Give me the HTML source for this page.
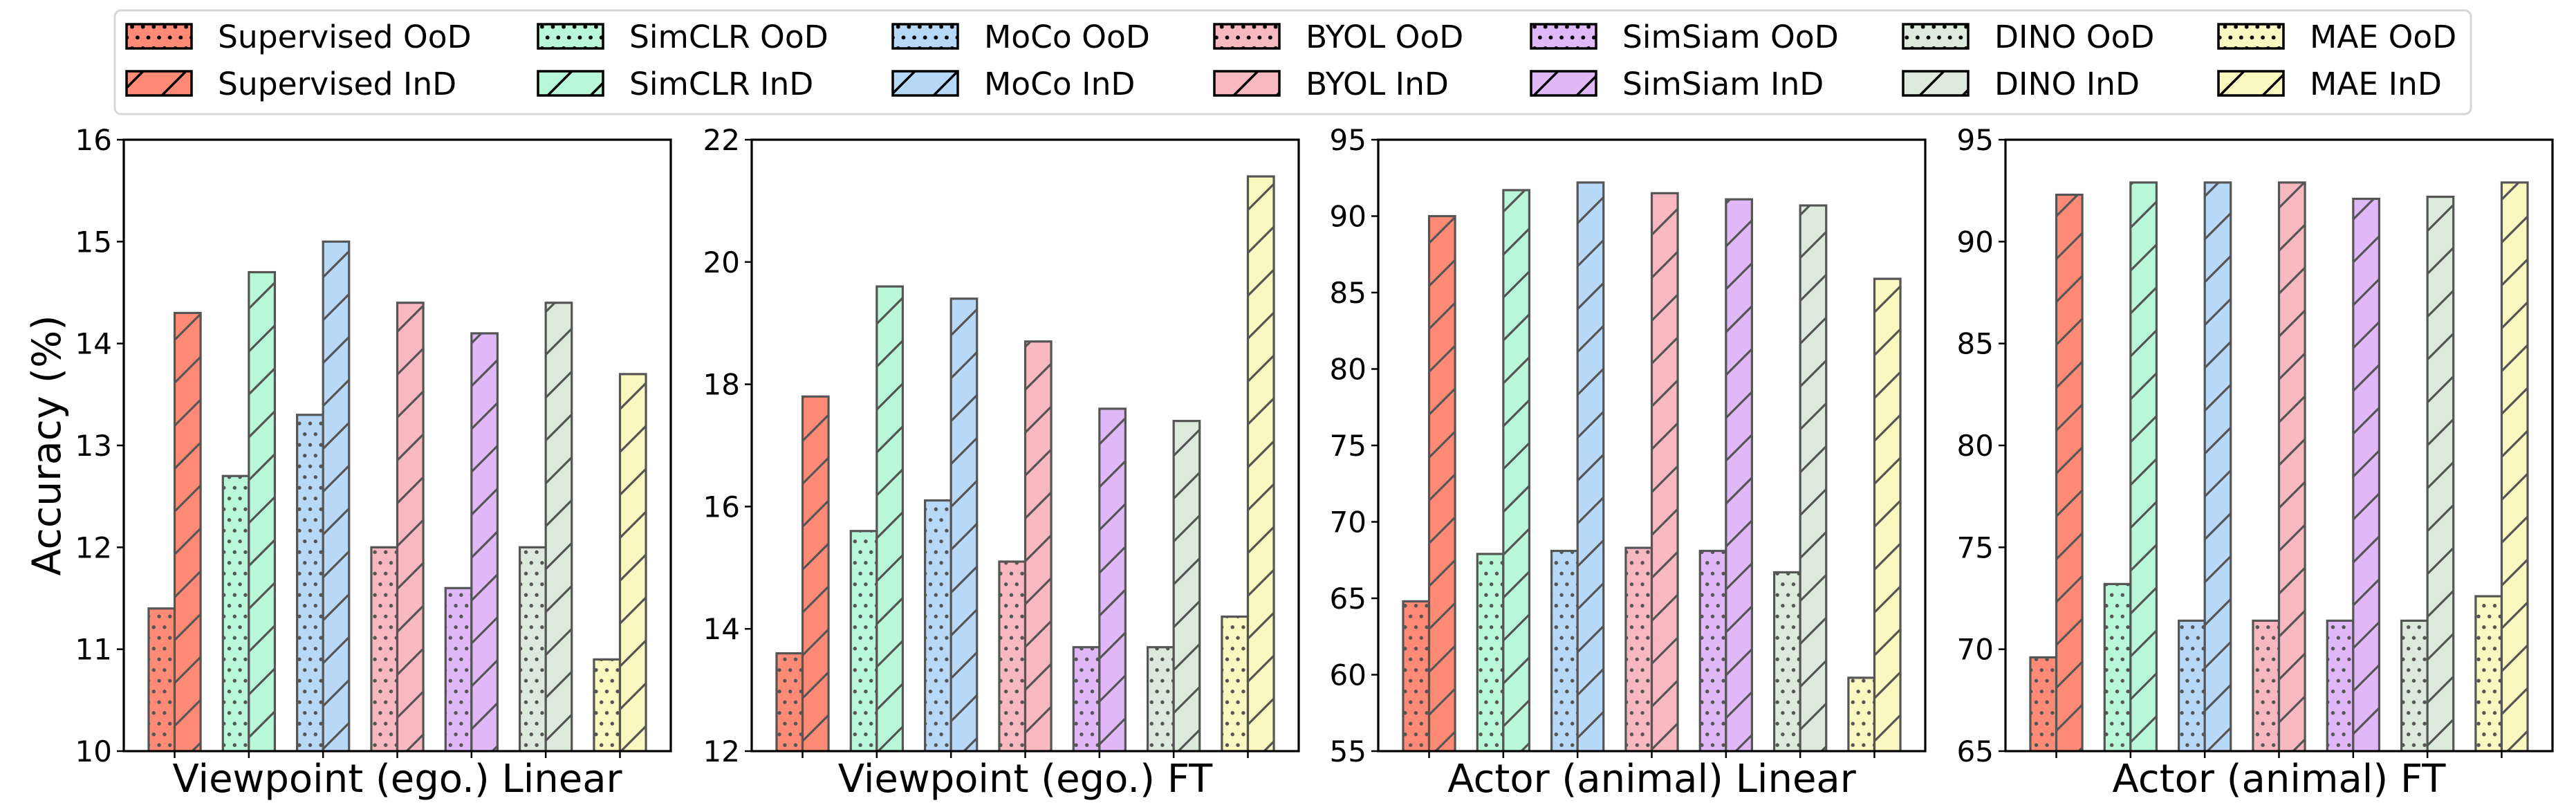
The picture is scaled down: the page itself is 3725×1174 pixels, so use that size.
<!DOCTYPE html>
<html><head><meta charset="utf-8"><style>
html,body{margin:0;padding:0;background:#fff;}
svg{display:block;font-family:"DejaVu Sans","Liberation Sans",sans-serif;}
</style></head><body>
<svg id="chart" width="3725" height="1174" viewBox="0 0 3725 1174" xmlns="http://www.w3.org/2000/svg">
<defs>
<pattern id="dots" patternUnits="userSpaceOnUse" width="15.6" height="31" x="0" y="0"><circle cx="3.9" cy="7.75" r="2.7" fill="#555"/><circle cx="11.7" cy="23.25" r="2.7" fill="#555"/></pattern>
<pattern id="slash" patternUnits="userSpaceOnUse" width="62" height="62"><path d="M-6,68 L68,-6 M-6,6 L6,-6 M56,68 L68,56" stroke="#555" stroke-width="3.2"/></pattern>
<pattern id="dotsK" patternUnits="userSpaceOnUse" width="15.6" height="31" x="0" y="0"><circle cx="3.9" cy="7.75" r="2.9" fill="#000"/><circle cx="11.7" cy="23.25" r="2.9" fill="#000"/></pattern>
<pattern id="slashK" patternUnits="userSpaceOnUse" width="62" height="62"><path d="M-6,68 L68,-6 M-6,6 L6,-6 M56,68 L68,56" stroke="#000" stroke-width="3.5"/></pattern>
</defs>
<g id="legend"></g>
<g id="panels"></g>
<text transform="translate(87,644) rotate(-90)" text-anchor="middle" font-size="57">Accuracy (%)</text>
</svg>
<script>
const methods = ["Supervised","SimCLR","MoCo","BYOL","SimSiam","DINO","MAE"];
const colors = ["#ff8a75","#b8f7d8","#b8d8f8","#f8b8c0","#e0b8f8","#dceadb","#f8f8c0"];
const titles = ["Viewpoint (ego.) Linear","Viewpoint (ego.) FT","Actor (animal) Linear","Actor (animal) FT"];
const p1OoD = [11.4,12.7,13.3,12.0,11.6,12.0,10.9];
const p1InD = [14.3,14.7,15.0,14.4,14.1,14.4,13.7];
const p2OoD = [13.6,15.6,16.1,15.1,13.7,13.7,14.2];
const p2InD = [17.8,19.6,19.4,18.7,17.6,17.4,21.4];
const p3OoD = [64.8,67.9,68.1,68.3,68.1,66.7,59.8];
const p3InD = [90.0,91.7,92.2,91.5,91.1,90.7,85.9];
const p4OoD = [69.6,73.2,71.4,71.4,71.4,71.4,72.6];
const p4InD = [92.3,92.9,92.9,92.9,92.1,92.2,92.9];
const yTicks1 = [10,11,12,13,14,15,16];
const yTicks2 = [12,14,16,18,20,22];
const yTicks3 = [55,60,65,70,75,80,85,90,95];
const yTicks4 = [65,70,75,80,85,90,95];

const NS="http://www.w3.org/2000/svg";
function mk(tag, attrs, parent){const e=document.createElementNS(NS,tag);for(const k in attrs)e.setAttribute(k,attrs[k]);parent.appendChild(e);return e;}
const legendG=document.getElementById('legend');
const panelsG=document.getElementById('panels');

const legendX=[183,778,1291,1756,2214,2752,3208];
const lb=mk('rect',{x:166,y:15,width:3407,height:150,rx:9,fill:'#fff',stroke:'#d6d6d6','stroke-width':3},legendG);


methods.forEach((m,k)=>{
  const px=legendX[k];
  [["OoD","dotsK",35],["InD","slashK",103]].forEach(([kind,pat,py])=>{
    const g=mk('g',{},legendG);
    
    
    mk('rect',{x:px,y:py,width:94,height:35,fill:colors[k]},g);
    mk('rect',{x:px,y:py,width:94,height:35,fill:'url(#'+pat+')'},g);
    mk('rect',{x:px,y:py,width:94,height:35,fill:'none',stroke:'#000','stroke-width':3.5},g);
    const t=mk('text',{x:px+132,y:py+34,'font-size':45.5},g);
    t.textContent=m+' '+kind;
  });
});

const panels=[
  {left:179,ood:p1OoD,ind:p1InD,ticks:yTicks1},
  {left:1087,ood:p2OoD,ind:p2InD,ticks:yTicks2},
  {left:1993,ood:p3OoD,ind:p3InD,ticks:yTicks3},
  {left:2900,ood:p4OoD,ind:p4InD,ticks:yTicks4}
];
const TOPY=202,BOTY=1086,W=791,bw=0.35;
panels.forEach((p,pi)=>{
  const g=mk('g',{},panelsG);
  
  
  const ymin=p.ticks[0],ymax=p.ticks[p.ticks.length-1];
  const xmin=-0.35-0.335,xmax=6.35+0.335;
  const X=v=>p.left+(v-xmin)/(xmax-xmin)*W;
  const Y=v=>BOTY-(v-ymin)/(ymax-ymin)*(BOTY-TOPY);
  const cp='clip'+pi;
  const c=mk('clipPath',{id:cp},g); mk('rect',{x:p.left,y:TOPY,width:W,height:BOTY-TOPY},c);
  const bars=mk('g',{'clip-path':'url(#'+cp+')'},g);
  methods.forEach((m,i)=>{
    [[p.ood[i],i-bw,'dots','ood'],[p.ind[i],i,'slash','ind']].forEach(([v,x0,pat,kind])=>{
      const bx=X(x0),bx2=X(x0+bw),by=Y(v);
      const bg=mk('g',{},bars);
      
      
      mk('rect',{x:bx,y:by,width:bx2-bx,height:BOTY-by,fill:colors[i]},bg);
      mk('rect',{x:bx,y:by,width:bx2-bx,height:BOTY-by,fill:'url(#'+pat+')'},bg);
      mk('rect',{x:bx,y:by,width:bx2-bx,height:BOTY-by+4,fill:'none',stroke:'#555','stroke-width':3.2},bg);
    });
  });
  const frame=mk('rect',{x:p.left,y:TOPY,width:W,height:BOTY-TOPY,fill:'none',stroke:'#000','stroke-width':3.2},g);
  
  
  p.ticks.forEach(t=>{
    const y=Y(t);
    mk('line',{x1:p.left-10,x2:p.left,y1:y,y2:y,stroke:'#000','stroke-width':2.5},g);
    const tl=mk('text',{x:p.left-17,y:y+15,'text-anchor':'end','font-size':42},g);
    
    
    tl.textContent=t;
  });
  methods.forEach((m,i)=>{
    mk('line',{x1:X(i),x2:X(i),y1:BOTY,y2:BOTY+10,stroke:'#000','stroke-width':2.5},g);
  });
  const xt=mk('text',{x:p.left+W/2,y:1145,'text-anchor':'middle','font-size':56},g);
  
  
  xt.textContent=titles[pi];
});
</script>
</body></html>
